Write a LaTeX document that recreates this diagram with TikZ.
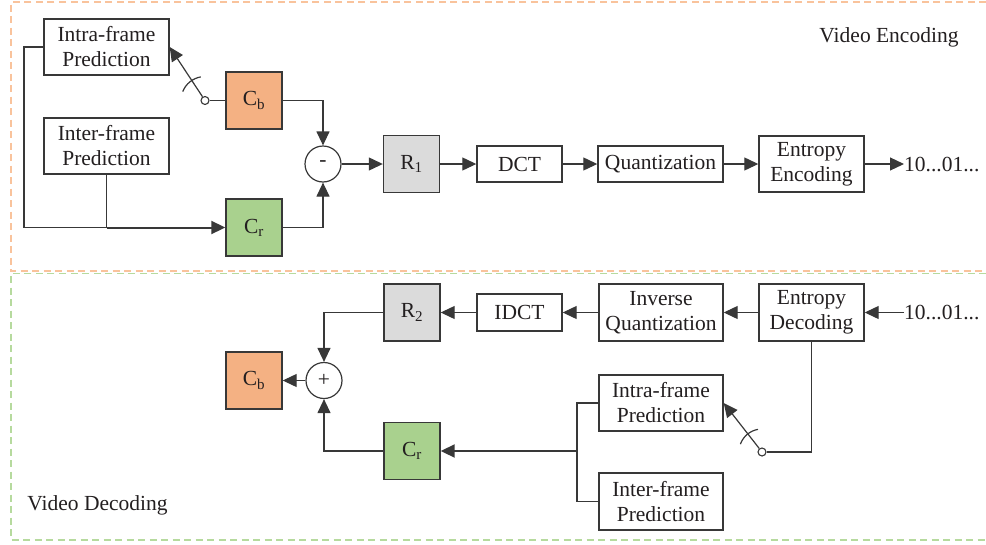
\documentclass[tikz,border=0pt]{standalone}
\usepackage{fontspec}
\setmainfont{Liberation Serif}
\usetikzlibrary{arrows.meta}
\definecolor{ink}{HTML}{231F20}
\definecolor{edge}{HTML}{383838}
\definecolor{cbfill}{HTML}{F4B183}
\definecolor{crfill}{HTML}{A9D18E}
\definecolor{rfill}{HTML}{DBDBDB}
\definecolor{encdash}{HTML}{F9C39C}
\definecolor{decdash}{HTML}{B6DA9E}
\tikzset{
  txt/.style={text=ink, font=\fontsize{21.5}{25}\selectfont},
  blk/.style={draw=edge, line width=1.4pt, fill=white, inner sep=0pt, align=center, txt},
  sq/.style={blk, minimum width=56pt, minimum height=57pt},
  wide/.style={blk, minimum width=125pt, minimum height=56pt},
  sum/.style={circle, draw=edge, line width=1.2pt, fill=white, minimum size=36pt, inner sep=0pt, txt},
  pivot/.style={circle, draw=edge, line width=1.1pt, fill=white, minimum size=8pt, inner sep=0pt},
  wire/.style={draw=edge, line width=1.2pt},
  feed/.style={wire, -{Triangle[length=14pt,width=13pt]}},
  heavy/.style={feed, line width=2pt},
  lbl/.style={txt, inner sep=0pt},
  frame/.style={line width=1.4pt, dash pattern=on 7pt off 4.5pt}
}
\begin{document}
\begin{tikzpicture}[x=1pt, y=-1pt]
\useasboundingbox (0,0) rectangle (986,544);

% section frames
\draw[frame, encdash] (986,2) -- (11,2) -- (11,271) -- (986,271);
\draw[frame, decdash] (986,273.5) -- (11,273.5) -- (11,540) -- (986,540);

% ---------------- encoder ----------------
\node[wide] (intraE) at (106.5,47) {Intra-frame\\Prediction};
\node[wide] (interE) at (106.5,146) {Inter-frame\\Prediction};
\node[sq, fill=cbfill] (cbE) at (254,100.5) {C\textsubscript{b}};
\node[sq, fill=crfill] (crE) at (254,227.5) {C\textsubscript{r}};
\node[sum] (minus) at (323,164) {-};
\node[sq, fill=rfill] (r1) at (411.5,164) {R\textsubscript{1}};
\node[blk, minimum width=85pt, minimum height=36pt] (dct) at (519.5,164) {DCT};
\node[blk, minimum width=125pt, minimum height=36pt] (quant) at (660.5,164) {Quantization};
\node[blk, minimum width=105pt, minimum height=56pt] (entE) at (811.5,164) {Entropy\\Encoding};
\node[lbl, anchor=west] (bitsE) at (904,164) {10...01...};
\node[pivot] (swE) at (205,100.5) {};
\node[lbl] (encT) at (889,37) {Video Encoding};

\coordinate (cornerE) at (24,227.5);
\coordinate (joinE) at (interE.south |- crE.west);
\draw[wire] (intraE.west) -| (cornerE) -- (joinE);
\draw[wire] (interE.south) -- (joinE);
\draw[heavy] (joinE) -- (crE.west);

\draw[wire] (cbE.west) -- (swE);
\draw[feed] (swE) -- (intraE.east);
\draw[wire] (swE.center) ++(-100:24) arc[start angle=-100, end angle=-158, radius=24];

\draw[feed] (cbE.east) -| (minus.north);
\draw[feed] (crE.east) -| (minus.south);
\draw[feed] (minus.east) -- (r1.west);
\draw[feed] (r1.east) -- (dct.west);
\draw[feed] (dct.east) -- (quant.west);
\draw[feed] (quant.east) -- (entE.west);
\draw[feed] (entE.east) -- (bitsE.west);

% ---------------- decoder ----------------
\node[sq, fill=rfill] (r2) at (412,312.5) {R\textsubscript{2}};
\node[blk, minimum width=85pt, minimum height=37pt] (idct) at (519.5,312.5) {IDCT};
\node[blk, minimum width=124pt, minimum height=57pt] (iquant) at (661,312.5) {Inverse\\Quantization};
\node[blk, minimum width=105pt, minimum height=57pt] (entD) at (811.5,312.5) {Entropy\\Decoding};
\node[lbl, anchor=west] (bitsD) at (904,312.5) {10...01...};
\node[sq, fill=cbfill] (cbD) at (254,380.5) {C\textsubscript{b}};
\node[sum] (plus) at (324,380.5) {+};
\node[sq, fill=crfill] (crD) at (412,451) {C\textsubscript{r}};
\node[wide, minimum width=124pt] (intraD) at (661,403) {Intra-frame\\Prediction};
\node[wide, minimum width=124pt, minimum height=57pt] (interD) at (661,501.5) {Inter-frame\\Prediction};
\node[pivot] (swD) at (762,452) {};
\node[lbl] (decT) at (97.5,505) {Video Decoding};

\draw[feed] (bitsD.west) -- (entD.east);
\draw[feed] (entD.west) -- (iquant.east);
\draw[feed] (iquant.west) -- (idct.east);
\draw[feed] (idct.west) -- (r2.east);
\draw[feed] (r2.west) -| (plus.north);
\draw[feed] (plus.west) -- (cbD.east);
\draw[feed] (crD.west) -| (plus.south);

\draw[wire] (entD.south) |- (swD);
\draw[feed] (swD) -- (intraD.east);
\draw[wire] (swD.center) ++(-100:23) arc[start angle=-100, end angle=-160, radius=23];

\coordinate (busD) at (577,501.5);
\coordinate (joinD) at (577,451);
\draw[wire] (intraD.west) -| (busD) -- (interD.west);
\draw[heavy] (joinD) -- (crD.east);
\end{tikzpicture}
\end{document}
